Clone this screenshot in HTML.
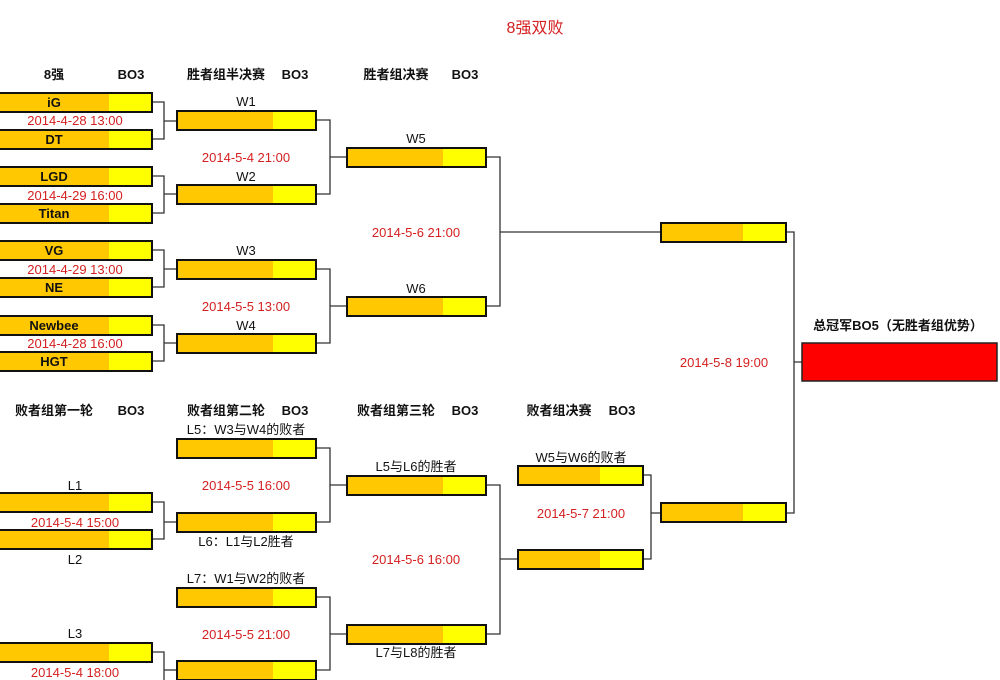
<!DOCTYPE html>
<html><head><meta charset="utf-8"><style>
html,body{margin:0;padding:0;background:#fff;}
svg{display:block;font-family:"Liberation Sans","Noto Sans CJK SC",sans-serif;}
.o{fill:#FFC800}.y{fill:#FFFF00}.b{fill:none;stroke:#111;stroke-width:2}
.l{fill:none;stroke:#333;stroke-width:1.3}
.d{fill:#d42020;font-size:13px;text-anchor:middle}
.t{fill:#111;font-size:13px;text-anchor:middle}
.h{fill:#111;font-size:13px;font-weight:bold;text-anchor:middle}
</style></head><body>
<svg width="1000" height="680" viewBox="0 0 1000 680">
<defs>
<g id="c1"><rect class="o" x="-2" y="0" width="111" height="19"/><rect class="y" x="109" y="0" width="43" height="19"/><rect class="b" x="-2" y="0" width="154" height="19"/></g>
<g id="c2"><rect class="o" x="177" y="0" width="96" height="19"/><rect class="y" x="273" y="0" width="43" height="19"/><rect class="b" x="177" y="0" width="139" height="19"/></g>
<g id="c3"><rect class="o" x="347" y="0" width="96" height="19"/><rect class="y" x="443" y="0" width="43" height="19"/><rect class="b" x="347" y="0" width="139" height="19"/></g>
<g id="c4"><rect class="o" x="661" y="0" width="82" height="19"/><rect class="y" x="743" y="0" width="43" height="19"/><rect class="b" x="661" y="0" width="125" height="19"/></g>
<g id="c5"><rect class="o" x="518" y="0" width="82" height="19"/><rect class="y" x="600" y="0" width="43" height="19"/><rect class="b" x="518" y="0" width="125" height="19"/></g>
</defs>
<text x="535" y="33" fill="#d42020" font-size="16" text-anchor="middle">8强双败</text>
<!-- headers -->
<text class="h" x="54" y="79">8强</text><text class="h" x="131" y="79">BO3</text>
<text class="h" x="226" y="79">胜者组半决赛</text><text class="h" x="295" y="79">BO3</text>
<text class="h" x="396" y="79">胜者组决赛</text><text class="h" x="465" y="79">BO3</text>
<text class="h" x="54" y="415">败者组第一轮</text><text class="h" x="131" y="415">BO3</text>
<text class="h" x="226" y="415">败者组第二轮</text><text class="h" x="295" y="415">BO3</text>
<text class="h" x="396" y="415">败者组第三轮</text><text class="h" x="465" y="415">BO3</text>
<text class="h" x="559" y="415">败者组决赛</text><text class="h" x="622" y="415">BO3</text>
<text class="h" x="898" y="330">总冠军BO5（无胜者组优势）</text>
<!-- connectors -->
<path class="l" d="M152 102H164V139H152M164 121H177"/>
<path class="l" d="M152 176H164V213H152M164 194H177"/>
<path class="l" d="M152 250H164V287H152M164 269H177"/>
<path class="l" d="M152 325H164V361H152M164 343H177"/>
<path class="l" d="M316 120H330V194H316M330 157H347"/>
<path class="l" d="M316 269H330V343H316M330 306H347"/>
<path class="l" d="M486 157H500V306H486M500 232H661"/>
<path class="l" d="M786 232H794V513H786M794 362H802"/>
<path class="l" d="M152 502H164V539H152M164 522H177"/>
<path class="l" d="M152 652H164V680"/><path class="l" d="M164 670H177"/>
<path class="l" d="M316 448H330V522H316M330 485H347"/>
<path class="l" d="M316 597H330V670H316M330 634H347"/>
<path class="l" d="M486 485H500V634H486M500 559H518"/>
<path class="l" d="M643 475H651V559H643M651 513H661"/>
<!-- boxes -->
<use href="#c1" y="93"/><use href="#c1" y="130"/><use href="#c1" y="167"/><use href="#c1" y="204"/>
<use href="#c1" y="241"/><use href="#c1" y="278"/><use href="#c1" y="316"/><use href="#c1" y="352"/>
<use href="#c1" y="493"/><use href="#c1" y="530"/><use href="#c1" y="643"/>
<use href="#c2" y="111"/><use href="#c2" y="185"/><use href="#c2" y="260"/><use href="#c2" y="334"/>
<use href="#c2" y="439"/><use href="#c2" y="513"/><use href="#c2" y="588"/><use href="#c2" y="661"/>
<use href="#c3" y="148"/><use href="#c3" y="297"/><use href="#c3" y="476"/><use href="#c3" y="625"/>
<use href="#c4" y="223"/><use href="#c4" y="503"/>
<use href="#c5" y="466"/><use href="#c5" y="550"/>
<rect x="802" y="343" width="195" height="38" fill="#ff0000" stroke="#222" stroke-width="1.5"/>
<!-- team names -->
<text class="h" x="54" y="107">iG</text><text class="h" x="54" y="144">DT</text>
<text class="h" x="54" y="181">LGD</text><text class="h" x="54" y="218">Titan</text>
<text class="h" x="54" y="255">VG</text><text class="h" x="54" y="292">NE</text>
<text class="h" x="54" y="330">Newbee</text><text class="h" x="54" y="366">HGT</text>
<!-- dates -->
<text class="d" x="75" y="125">2014-4-28 13:00</text>
<text class="d" x="75" y="200">2014-4-29 16:00</text>
<text class="d" x="75" y="274">2014-4-29 13:00</text>
<text class="d" x="75" y="348">2014-4-28 16:00</text>
<text class="d" x="246" y="162">2014-5-4 21:00</text>
<text class="d" x="246" y="311">2014-5-5 13:00</text>
<text class="d" x="416" y="237">2014-5-6 21:00</text>
<text class="d" x="724" y="367">2014-5-8 19:00</text>
<text class="d" x="75" y="527">2014-5-4 15:00</text>
<text class="d" x="75" y="677">2014-5-4 18:00</text>
<text class="d" x="246" y="490">2014-5-5 16:00</text>
<text class="d" x="246" y="639">2014-5-5 21:00</text>
<text class="d" x="416" y="564">2014-5-6 16:00</text>
<text class="d" x="581" y="518">2014-5-7 21:00</text>
<!-- labels -->
<text class="t" x="246" y="106">W1</text><text class="t" x="246" y="181">W2</text>
<text class="t" x="246" y="255">W3</text><text class="t" x="246" y="330">W4</text>
<text class="t" x="416" y="143">W5</text><text class="t" x="416" y="293">W6</text>
<text class="t" x="75" y="490">L1</text><text class="t" x="75" y="564">L2</text>
<text class="t" x="75" y="638">L3</text>
<text class="t" x="246" y="434">L5：W3与W4的败者</text>
<text class="t" x="246" y="546">L6：L1与L2胜者</text>
<text class="t" x="246" y="583">L7：W1与W2的败者</text>
<text class="t" x="416" y="471">L5与L6的胜者</text>
<text class="t" x="416" y="657">L7与L8的胜者</text>
<text class="t" x="581" y="462">W5与W6的败者</text>
</svg>
</body></html>
